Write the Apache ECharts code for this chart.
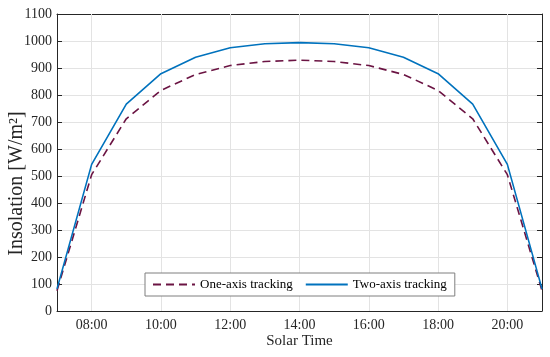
<!DOCTYPE html>
<html><head><meta charset="utf-8">
<script src="https://cdn.jsdelivr.net/npm/echarts@6/dist/echarts.min.js"></script>
<style>html,body{margin:0;padding:0;background:#fff}#c{width:550px;height:357px}</style>
</head><body><div id="c"></div>
<script>
const hours = [7,8,9,10,11,12,13,14,15,16,17,18,19,20,21];
const oneAxis = [75,505,712,817,876,909,924,929,924,909,876,817,712,505,75];
const twoAxis = [82,543,766,879,940,975,990,994,990,975,940,879,766,543,82];
const xTicks = [8,10,12,14,16,18,20];

const font = 'Liberation Serif';
const txt = '#262626';
const axisLineC = '#262626';
const gridC = '#e3e3e3';

const chart = echarts.init(document.getElementById('c'));
const fmt = v => (v < 10 ? '0' : '') + v + ':00';
chart.setOption({
  animation: false,
  backgroundColor: '#fff',
  grid: { left: 57, right: 8, top: 14, bottom: 46, containLabel: false, outerBoundsMode: 'none' },
  legend: {
    left: 145, top: 273,
    itemWidth: 42, itemHeight: 10, itemGap: 12,
    padding: [5, 8, 5, 7],
    borderColor: '#7f7f7f', borderWidth: 1, backgroundColor: '#fff', borderRadius: 0,
    itemStyle: { opacity: 0 },
    textStyle: { fontFamily: font, fontSize: 13, color: '#000' },
    data: ['One-axis tracking', 'Two-axis tracking']
  },
  xAxis: [{
    type: 'value', min: 7, max: 21, position: 'bottom',
    name: 'Solar Time', nameLocation: 'middle', nameGap: 23, nameMoveOverlap: false,
    nameTextStyle: { fontFamily: font, fontSize: 15, color: txt },
    axisLine: { show: true, onZero: false, lineStyle: { color: axisLineC, width: 1 } },
    axisTick: { show: true, inside: true, length: 5, customValues: xTicks, lineStyle: { color: axisLineC } },
    axisLabel: { customValues: xTicks, formatter: fmt, fontFamily: font, fontSize: 14, color: txt, margin: 7 },
    splitLine: { show: false }
  }, {
    type: 'value', min: 7, max: 21, position: 'top',
    axisLine: { show: true, onZero: false, lineStyle: { color: axisLineC, width: 1 } },
    axisTick: { show: true, inside: true, length: 5, customValues: xTicks, lineStyle: { color: axisLineC } },
    axisLabel: { show: false, customValues: xTicks },
    splitLine: { show: false }
  }],
  yAxis: [{
    type: 'value', min: 0, max: 1100, interval: 100, position: 'left',
    name: 'Insolation [W/m²]', nameLocation: 'middle', nameGap: 30, nameMoveOverlap: false,
    nameTextStyle: { fontFamily: font, fontSize: 20, color: txt, padding: [0, 42, 0, 0] },
    axisLine: { show: true, onZero: false, lineStyle: { color: axisLineC, width: 1 } },
    axisTick: { show: true, inside: true, length: 5, lineStyle: { color: axisLineC } },
    axisLabel: { formatter: v => String(v), fontFamily: font, fontSize: 14, color: txt, margin: 5 },
    splitLine: { show: true, lineStyle: { color: gridC, width: 1 } }
  }, {
    type: 'value', min: 0, max: 1100, interval: 100, position: 'right',
    axisLine: { show: true, onZero: false, lineStyle: { color: axisLineC, width: 1 } },
    axisTick: { show: true, inside: true, length: 5, lineStyle: { color: axisLineC } },
    axisLabel: { show: false },
    splitLine: { show: false }
  }],
  series: [{
    name: 'grid', type: 'line', data: [], z: 1, silent: true,
    markLine: {
      silent: true, symbol: 'none', animation: false, z: 1,
      label: { show: false },
      lineStyle: { color: gridC, width: 1, type: 'solid' },
      emphasis: { disabled: true },
      data: xTicks.map(v => ({ xAxis: v }))
    }
  }, {
    name: 'One-axis tracking', type: 'line', symbol: 'none',
    data: hours.map((h, i) => [h, oneAxis[i]]),
    lineStyle: { color: '#6b1443', width: 1.6, type: [8, 5] },
    itemStyle: { color: '#6b1443' }, z: 3
  }, {
    name: 'Two-axis tracking', type: 'line', symbol: 'none',
    data: hours.map((h, i) => [h, twoAxis[i]]),
    lineStyle: { color: '#0072BD', width: 1.6 },
    itemStyle: { color: '#0072BD' }, z: 4
  }]
});
</script></body></html>
